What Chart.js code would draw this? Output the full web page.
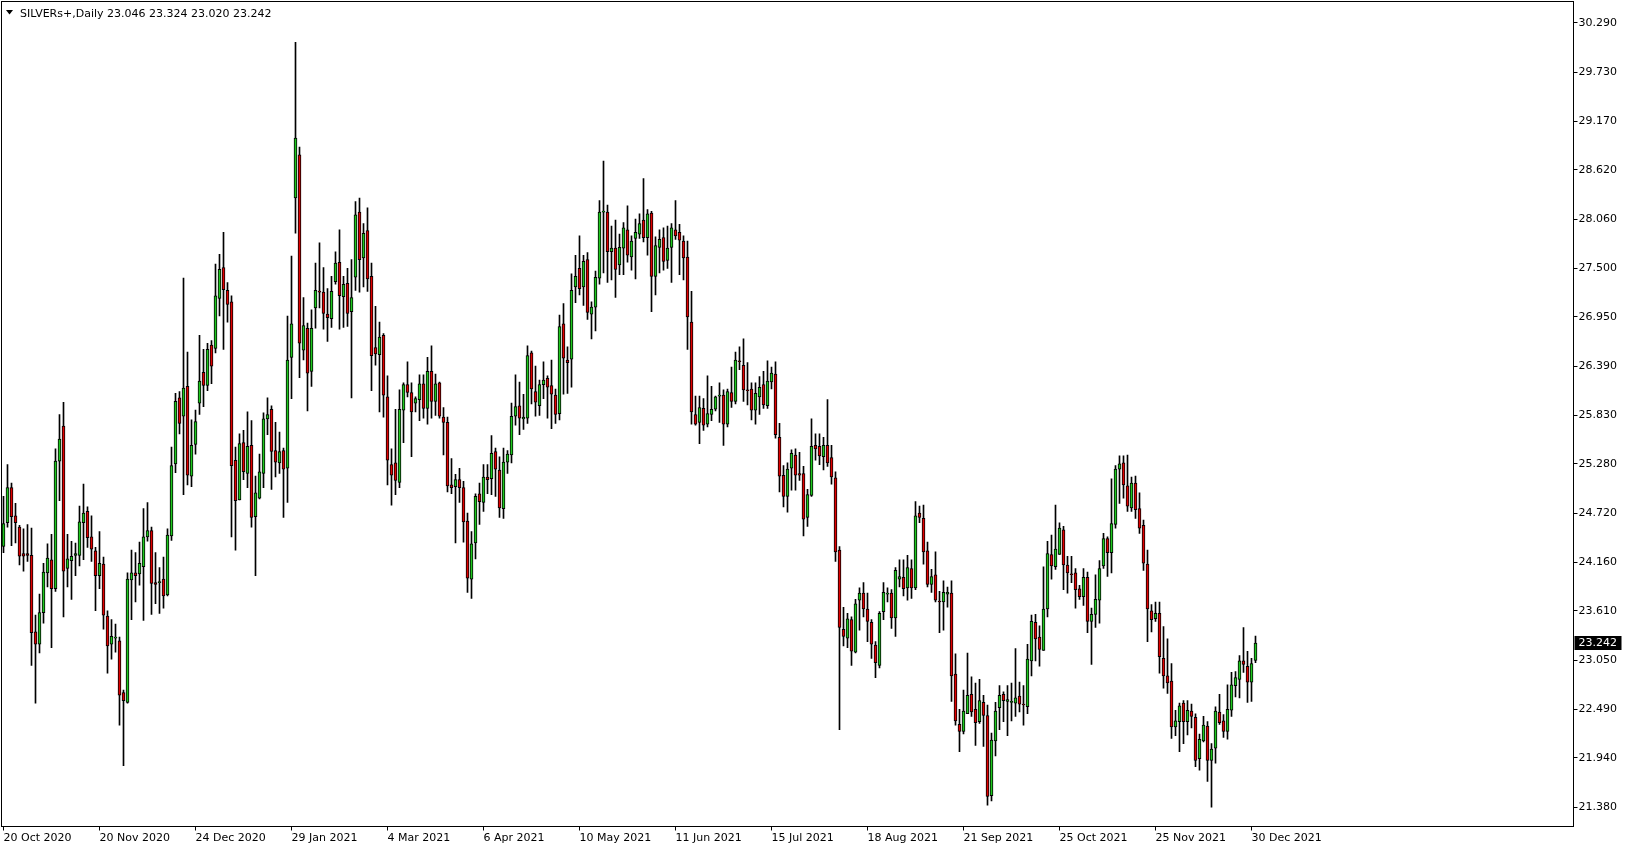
<!DOCTYPE html>
<html lang="en">
<head>
<meta charset="UTF-8">
<title>SILVERs+, Daily</title>
<script src="https://cdn.jsdelivr.net/npm/chart.js"></script>
<style>
  html, body { margin: 0; padding: 0; background: #fff; }
  #wrap { width: 1629px; height: 850px; }
</style>
</head>
<body>
<div id="wrap"><canvas id="chart" width="1629" height="850"></canvas></div>
<script>
// daily bars, oldest first (20 Oct 2020 ... 30/31 Dec 2021)
const symbol = 'SILVERs+,Daily';
const opens = [
  24.34,24.61,25.01,24.69,24.56,24.26,24.26,24.24,23.37,23.23,23.59,24.04,24.19,23.86,25.31,25.71,24.09,24.18,24.24,24.24,
  24.61,24.74,24.45,24.29,24.01,24.14,23.55,23.23,23.30,23.27,22.68,22.57,23.96,24.04,24.03,24.11,24.45,24.52,23.93,23.93,
  23.97,23.79,24.46,25.28,26.03,25.82,26.16,25.14,25.50,25.97,26.32,26.17,26.63,26.59,27.16,27.51,27.25,27.12,25.32,24.87,
  25.52,25.17,25.49,24.68,24.89,25.17,25.79,25.90,25.43,25.29,25.43,25.23,26.49,28.30,28.79,26.57,26.82,26.33,27.05,27.24,
  27.23,26.98,26.93,27.35,27.57,27.18,27.33,27.01,27.40,28.14,27.62,27.93,27.41,26.60,26.52,26.74,26.04,25.27,25.29,25.07,
  25.89,26.18,26.09,25.97,26.01,26.19,25.91,26.33,25.99,26.20,25.81,25.75,25.04,25.02,25.10,25.01,24.63,23.97,24.38,24.94,
  24.84,25.13,25.11,25.42,25.21,24.77,25.30,25.38,25.82,25.94,25.79,25.80,26.54,26.10,25.94,26.18,26.25,26.17,26.06,25.85,
  26.87,26.46,26.47,27.29,27.50,27.29,27.60,26.98,27.06,27.39,28.14,28.14,27.69,27.73,27.54,27.73,27.94,27.63,27.84,27.89,
  28.05,27.85,28.13,27.41,27.74,27.85,27.59,27.74,27.94,27.91,27.81,27.63,26.89,25.84,25.75,25.91,25.73,25.84,25.90,26.05,
  26.06,25.73,26.09,25.99,26.45,26.40,26.12,26.13,25.89,26.04,26.18,25.94,26.21,26.30,25.58,25.15,24.91,25.23,25.38,25.17,
  25.17,24.67,24.92,25.49,25.48,25.36,25.49,25.35,25.12,24.30,23.40,23.30,23.51,23.14,23.73,23.81,23.63,23.48,23.22,22.99,
  23.60,23.80,23.81,23.53,23.97,23.99,23.87,24.09,23.87,24.72,24.66,24.29,23.91,24.02,23.72,23.71,23.80,23.81,22.89,22.32,
  22.24,22.44,22.66,22.49,22.35,22.57,22.42,21.51,22.13,22.51,22.66,22.58,22.57,22.56,22.64,22.55,22.52,23.04,23.48,23.31,
  23.16,23.63,24.25,24.11,24.25,24.53,24.13,24.03,24.04,23.86,23.77,23.99,23.49,23.57,23.73,24.12,24.43,24.27,24.59,25.22,
  25.29,25.03,24.78,25.06,24.77,24.58,24.14,23.61,23.52,23.58,23.07,22.87,22.81,22.29,22.35,22.56,22.35,22.47,22.40,21.93,
  22.13,22.30,21.91,22.05,22.46,22.36,22.24,22.48,22.76,22.83,23.04,22.98,22.80,23.046
];
const highs = [
  24.91,25.27,25.06,24.83,24.58,24.54,24.59,24.55,23.56,23.80,24.15,24.37,24.48,25.45,25.84,25.98,24.48,24.40,24.38,24.80,
  25.05,24.79,24.69,24.33,24.51,24.22,23.61,23.51,23.46,23.31,22.71,24.04,24.30,24.27,24.39,24.77,24.84,24.56,24.27,24.10,
  24.22,24.54,25.47,26.08,26.10,27.39,26.55,25.78,25.89,26.74,26.58,26.65,26.68,27.55,27.66,27.91,27.34,27.19,25.47,25.62,
  25.66,25.87,25.77,25.14,25.39,25.86,26.03,25.94,25.75,25.64,25.46,26.96,27.64,30.07,28.88,27.17,26.88,27.03,27.56,27.79,
  27.51,27.27,27.41,27.69,27.94,27.41,27.50,27.60,28.26,28.30,28.01,28.19,27.56,27.07,26.89,26.76,26.28,25.45,25.90,26.12,
  26.20,26.44,26.20,26.04,26.29,26.29,26.49,26.62,26.30,26.21,25.92,25.81,25.34,25.16,25.23,25.08,24.72,24.51,24.94,25.06,
  25.27,25.27,25.60,25.46,25.36,25.46,25.43,25.97,26.29,26.21,26.07,26.62,26.56,26.39,26.23,26.44,26.28,26.46,26.13,26.97,
  27.10,26.61,27.44,27.65,27.87,27.65,27.68,27.12,27.47,28.27,28.72,28.22,27.98,28.05,27.89,28.02,28.21,27.87,28.06,28.12,
  28.52,28.17,28.15,27.86,27.94,27.96,27.98,28.01,28.27,28.00,27.87,27.81,27.24,26.05,26.05,26.02,26.28,26.16,26.05,26.20,
  26.12,26.13,26.38,26.55,26.61,26.70,26.43,26.20,26.20,26.27,26.33,26.45,26.38,26.44,25.74,25.26,25.29,25.44,25.45,25.41,
  25.25,24.99,25.79,25.62,25.62,25.58,26.01,25.49,25.19,24.34,23.65,23.58,23.54,23.74,23.87,23.93,23.81,23.51,23.26,23.60,
  23.93,23.87,23.85,24.10,24.19,24.19,24.24,24.19,24.85,24.80,24.81,24.39,24.08,24.28,23.83,23.95,23.88,23.95,23.12,22.49,
  22.71,23.13,22.86,22.79,22.83,22.65,22.54,22.22,22.57,22.76,22.69,22.76,22.79,23.18,22.80,22.76,23.23,23.56,23.57,23.44,
  24.11,24.40,24.47,24.81,24.61,24.57,24.23,24.23,24.09,23.90,24.09,24.05,23.64,24.02,24.18,24.49,24.45,25.11,25.26,25.37,
  25.37,25.38,25.13,25.14,24.95,24.64,24.30,23.68,23.71,23.71,23.43,23.29,23.01,22.48,22.56,22.59,22.59,22.55,22.44,22.21,
  22.41,22.35,22.10,22.52,22.66,22.43,22.77,22.91,22.92,23.10,23.42,23.15,23.07,23.324
];
const lows = [
  24.27,24.56,24.35,24.38,24.13,24.06,24.17,22.99,22.56,23.13,23.47,23.88,23.19,23.83,24.86,23.54,23.88,23.74,24.01,24.12,
  24.19,24.33,24.17,23.61,23.86,23.40,22.90,23.06,23.14,22.31,21.85,22.56,23.51,23.71,23.90,23.50,24.40,23.57,23.69,23.58,
  23.64,23.78,24.41,25.18,25.62,24.93,25.04,25.02,25.39,25.84,25.93,26.11,26.19,26.54,26.96,26.58,26.89,24.45,24.30,24.87,
  25.10,25.01,24.56,24.01,24.88,25.01,25.61,24.99,25.13,25.17,24.67,24.84,26.02,27.90,26.26,26.46,25.88,26.16,26.82,27.05,
  26.81,26.67,26.83,27.32,26.81,26.83,26.84,26.03,27.25,27.23,27.29,27.24,26.11,26.40,25.87,25.81,25.04,24.81,24.93,25.01,
  25.52,26.04,25.36,25.87,25.77,25.80,25.73,25.80,25.83,25.80,25.38,24.96,24.94,24.38,24.84,24.39,23.82,23.75,24.20,24.59,
  24.74,24.94,24.93,24.91,24.67,24.66,25.17,25.29,25.72,25.61,25.67,25.74,25.96,25.82,25.83,26.02,25.80,25.68,25.74,25.78,
  26.07,26.08,26.15,27.11,27.20,27.08,26.92,26.70,26.79,27.32,27.45,27.34,27.37,27.17,27.43,27.43,27.57,27.48,27.38,27.84,
  27.80,27.65,27.01,27.20,27.45,27.48,27.50,27.34,27.83,27.43,27.37,26.58,25.73,25.72,25.51,25.66,25.70,25.77,25.88,25.75,
  25.49,25.70,25.92,25.96,26.35,25.99,25.95,25.78,25.73,25.84,25.91,25.91,26.13,25.57,24.96,24.79,24.73,24.98,24.98,25.09,
  24.46,24.57,24.91,25.32,25.27,25.21,25.25,25.05,24.17,22.26,23.21,23.19,22.99,23.13,23.39,23.54,23.26,23.07,22.85,22.96,
  23.51,23.71,23.41,23.32,23.88,23.78,23.73,23.75,23.85,24.61,24.14,23.88,23.82,23.71,23.36,23.39,23.65,22.58,22.31,22.01,
  22.21,22.44,22.41,22.08,22.33,22.07,21.40,21.45,21.96,22.26,22.35,22.19,22.36,22.41,22.46,22.31,22.44,22.87,23.04,22.98,
  23.16,23.54,23.97,24.08,24.25,23.85,23.81,23.93,23.64,23.74,23.67,23.36,23.00,23.42,23.47,24.09,24.00,24.04,24.55,24.83,
  24.89,24.74,24.74,24.66,24.49,24.07,23.26,23.37,23.49,22.90,22.73,22.67,22.16,22.19,22.01,22.10,22.20,22.28,21.84,21.80,
  22.12,21.67,21.38,21.88,22.32,22.17,22.15,22.41,22.63,22.62,22.91,22.57,22.58,23.020
];
const closes = [
  24.60,25.01,24.68,24.61,24.23,24.23,24.24,23.36,23.23,23.59,24.05,24.21,23.86,25.31,25.56,24.06,24.20,24.23,24.26,24.62,
  24.72,24.44,24.31,24.01,24.15,23.56,23.21,23.32,23.31,22.65,22.59,23.97,24.04,24.01,24.15,24.45,24.52,23.92,23.91,23.94,
  23.78,24.47,25.26,25.99,25.74,26.14,25.15,25.49,25.76,26.22,26.17,26.58,26.39,27.19,27.49,27.26,27.09,25.26,24.86,25.51,
  25.19,25.48,24.67,24.95,25.19,25.79,25.84,25.42,25.30,25.42,25.22,26.46,26.87,28.98,26.65,26.85,26.31,26.82,27.25,27.23,
  26.99,26.94,27.24,27.56,27.19,27.32,26.99,27.17,28.11,27.60,27.90,27.38,26.51,26.53,26.72,26.06,25.32,25.15,25.09,25.90,
  26.18,26.09,25.87,26.02,26.19,25.91,26.33,25.99,26.19,25.82,25.75,25.03,25.01,25.10,25.01,24.62,23.98,24.37,24.91,24.85,
  25.13,25.10,25.40,25.22,24.78,25.30,25.39,25.82,25.93,25.80,25.81,26.51,26.13,25.98,26.18,26.23,26.15,26.07,25.84,26.84,
  26.48,26.43,27.25,27.41,27.27,27.58,27.00,27.06,27.40,28.14,28.15,27.69,27.73,27.49,27.74,27.96,27.65,27.81,27.91,28.01,
  27.85,28.12,27.41,27.76,27.83,27.58,27.73,27.96,27.87,27.82,27.62,26.95,25.87,25.73,25.92,25.72,25.85,25.90,26.04,26.06,
  25.73,26.10,25.99,26.46,26.44,26.12,26.11,25.89,26.08,26.15,25.95,26.22,26.31,25.61,25.14,24.91,25.22,25.40,25.15,25.15,
  24.65,24.93,25.48,25.45,25.37,25.49,25.29,25.13,24.28,23.42,23.32,23.52,23.15,23.69,23.81,23.63,23.49,23.23,23.02,23.58,
  23.82,23.81,23.53,24.07,24.00,23.86,24.10,23.87,24.69,24.67,24.28,23.91,24.00,23.73,23.71,23.82,23.82,22.87,22.36,22.24,
  22.47,22.65,22.46,22.34,22.59,22.42,21.50,22.14,22.47,22.65,22.59,22.60,22.57,22.62,22.55,22.54,23.06,23.49,23.29,23.17,
  23.63,24.26,24.12,24.31,24.55,24.13,24.04,24.02,23.85,23.77,23.99,23.49,23.57,23.74,24.09,24.43,24.27,24.60,25.22,25.28,
  25.04,24.80,25.06,24.76,24.55,24.15,23.63,23.51,23.58,23.09,22.87,22.79,22.29,22.36,22.53,22.35,22.48,22.41,21.91,22.15,
  22.31,21.91,22.04,22.47,22.34,22.24,22.49,22.77,22.85,23.04,23.00,22.80,23.01,23.242
];
const xTickLabels = ['20 Oct 2020', '20 Nov 2020', '24 Dec 2020', '29 Jan 2021', '4 Mar 2021', '6 Apr 2021',
  '10 May 2021', '11 Jun 2021', '15 Jul 2021', '18 Aug 2021', '21 Sep 2021', '25 Oct 2021', '25 Nov 2021', '30 Dec 2021'];
const xTickStep = 24; // bars between date labels
const yTickLabels = ['30.290', '29.730', '29.170', '28.620', '28.060', '27.500', '26.950', '26.390', '25.830',
  '25.280', '24.720', '24.160', '23.610', '23.050', '22.490', '21.940', '21.380'];

const bullColor = '#1ec81e';
const bearColor = '#e00000';
const font = { family: 'DejaVu Sans', size: 11 };

// one slot = 4px, the empty slots on the right are the terminal's chart shift
const slots = 393;
const labels = Array.from({ length: slots }, (_, i) => i);
const bodies = opens.map((o, i) => [o, closes[i]]);
const wicks = lows.map((l, i) => [l, highs[i]]);
const bodyColors = opens.map((o, i) => closes[i] >= o ? bullColor : bearColor);

const framePlugin = {
  id: 'frame',
  afterDraw(chart) {
    const { ctx, chartArea: a } = chart;
    ctx.save();
    ctx.strokeStyle = '#000';
    ctx.lineWidth = 1;
    ctx.strokeRect(a.left, a.top, a.right - a.left, a.bottom - a.top);
    ctx.restore();
  }
};

const headerPlugin = {
  id: 'header',
  afterDraw(chart) {
    const ctx = chart.ctx;
    const n = closes.length - 1;
    ctx.save();
    ctx.fillStyle = '#000';
    ctx.beginPath();
    ctx.moveTo(6, 10); ctx.lineTo(13, 10); ctx.lineTo(9.5, 14.5);
    ctx.closePath();
    ctx.fill();
    ctx.font = font.size + 'px "' + font.family + '"';
    ctx.textBaseline = 'middle';
    ctx.fillText(symbol, 20, 14);
    const ohlc = [opens[n], highs[n], lows[n], closes[n]].map(v => v.toFixed(3)).join(' ');
    ctx.fillText(ohlc, 107, 14);
    ctx.restore();
  }
};

const lastPricePlugin = {
  id: 'lastPrice',
  afterDraw(chart) {
    const { ctx, chartArea: a } = chart;
    const last = closes[closes.length - 1];
    const y = chart.scales.y.getPixelForValue(last);
    ctx.save();
    ctx.fillStyle = '#000';
    ctx.fillRect(a.right + 1, Math.round(y) - 7, 47, 14);
    ctx.fillStyle = '#fff';
    ctx.font = font.size + 'px "' + font.family + '"';
    ctx.textBaseline = 'middle';
    ctx.fillText(last.toFixed(3), a.right + 5, Math.round(y));
    ctx.restore();
  }
};

new Chart(document.getElementById('chart'), {
  type: 'bar',
  data: {
    labels: labels,
    datasets: [
      {
        data: bodies,
        backgroundColor: bodyColors,
        borderColor: '#000',
        borderWidth: 1,
        borderSkipped: false,
        barThickness: 3,
        minBarLength: 1,
        grouped: false,
        order: 0
      },
      {
        data: wicks,
        backgroundColor: '#000',
        borderWidth: 0,
        barThickness: 1,
        grouped: false,
        order: 1
      }
    ]
  },
  options: {
    responsive: false,
    animation: false,
    devicePixelRatio: 1,
    layout: { padding: { left: 1.5, top: 1.5, right: 0, bottom: 0 } },
    plugins: {
      legend: { display: false },
      tooltip: { enabled: false }
    },
    scales: {
      x: {
        grid: { display: true, drawOnChartArea: false, offset: false, tickLength: 4, color: '#000' },
        border: { display: false },
        ticks: {
          autoSkip: false,
          maxRotation: 0,
          align: 'start',
          padding: 1,
          color: '#000',
          font: font,
          callback: (v, i) => xTickLabels[i]
        },
        afterBuildTicks: s => { s.ticks = xTickLabels.map((_, i) => ({ value: i * xTickStep })); },
        afterFit: s => { s.height = 23.5; s.paddingLeft = 0; s.paddingRight = 0; }
      },
      y: {
        position: 'right',
        min: 21.159,
        max: 30.533,
        grid: { display: true, drawOnChartArea: false, tickLength: 4, color: '#000' },
        border: { display: false },
        ticks: {
          padding: 1,
          color: '#000',
          font: font,
          callback: (v, i) => yTickLabels[i]
        },
        afterBuildTicks: s => { s.ticks = yTickLabels.map(t => ({ value: Number(t) })); },
        afterFit: s => { s.width = 55.5; s.paddingTop = 0; s.paddingBottom = 0; }
      }
    }
  },
  plugins: [framePlugin, headerPlugin, lastPricePlugin]
});
</script>
</body>
</html>
